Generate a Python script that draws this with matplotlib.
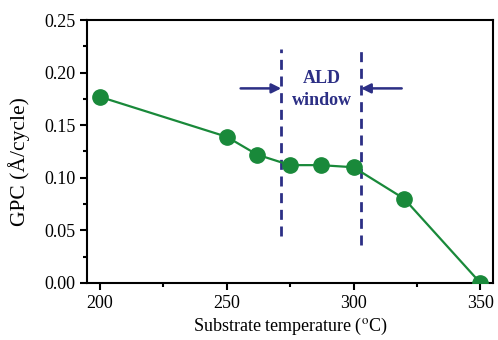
import matplotlib.pyplot as plt
from matplotlib.ticker import MultipleLocator

# Growth per cycle vs substrate temperature
temperatura = [200, 250, 262, 275, 287, 300, 320, 350]
gpc = [0.177, 0.139, 0.122, 0.112, 0.112, 0.110, 0.080, 0.0]

# ALD window edges
ventana = [271.5, 303]

verde = '#19893a'
azul = '#2c2f85'

plt.rcParams['font.family'] = 'Liberation Serif'
plt.rcParams['mathtext.fontset'] = 'stix'

fig = plt.figure(figsize=(4.98, 3.4), dpi=100)
ax = fig.add_axes([0.175, 0.168, 0.815, 0.773])

ax.plot(temperatura, gpc, marker='o', linestyle='-', color=verde,
        linewidth=1.6, markersize=11, zorder=3)

# Limites de la ventana ALD
ax.plot([ventana[0], ventana[0]], [0.045, 0.222], linestyle=(0, (3.6, 2.4)),
        color=azul, linewidth=2)
ax.plot([ventana[1], ventana[1]], [0.036, 0.222], linestyle=(0, (3.6, 2.4)),
        color=azul, linewidth=2)

ax.annotate('', xy=(ventana[0], 0.185), xytext=(255.5, 0.185),
            arrowprops=dict(arrowstyle='-|>', color=azul, lw=1.8,
                            mutation_scale=14, shrinkA=0, shrinkB=0))
ax.annotate('', xy=(ventana[1], 0.185), xytext=(319, 0.185),
            arrowprops=dict(arrowstyle='-|>', color=azul, lw=1.8,
                            mutation_scale=14, shrinkA=0, shrinkB=0))
ax.text(287.5, 0.184, 'ALD\nwindow', ha='center', va='center', color=azul,
        fontsize=13, fontweight='bold', linespacing=1.45)

ax.set_xlim(195, 355)
ax.set_ylim(0, 0.25)
ax.xaxis.set_major_locator(MultipleLocator(50))
ax.xaxis.set_minor_locator(MultipleLocator(25))
ax.yaxis.set_major_locator(MultipleLocator(0.05))
ax.yaxis.set_minor_locator(MultipleLocator(0.025))
ax.yaxis.set_major_formatter(plt.FormatStrFormatter('%.2f'))

for s in ax.spines.values():
    s.set_linewidth(1.5)
ax.tick_params(which='major', direction='out', length=5, width=1.5, labelsize=13)
ax.tick_params(which='minor', direction='out', length=3, width=1.5)

ax.set_xlabel(r'Substrate temperature ($^{\rm o}$C)', fontsize=13, labelpad=3)
ax.set_ylabel('GPC (Å/cycle)', fontsize=15.5)
ax.yaxis.set_label_coords(-0.14, 0.46)

fig.savefig('out.png', dpi=100)
